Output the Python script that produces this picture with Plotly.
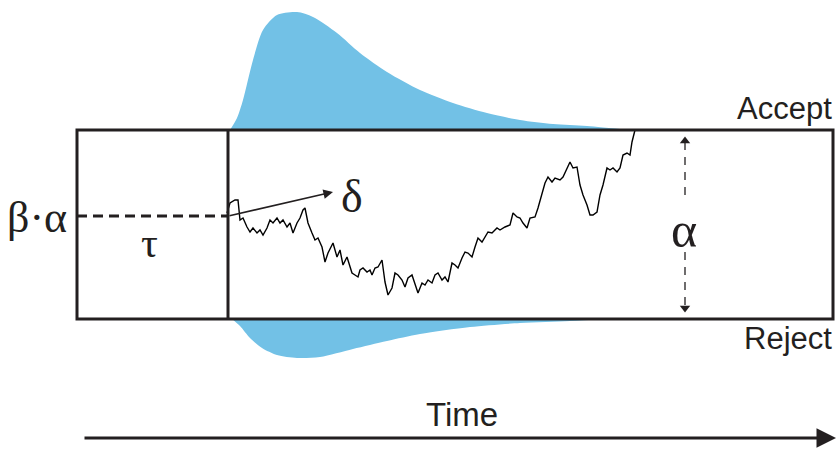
import plotly.graph_objects as go

# ---- data (diagram coordinates: x = time, y = screen-like evidence axis, reversed) ----
walk_t = [227, 230, 235, 238, 240, 243, 247, 250, 253, 257, 260, 263, 267, 270, 273, 277, 280,
          283, 287, 290, 293, 297, 300, 303, 305, 308, 312, 315, 318, 322, 325, 328, 333, 337,
          340, 343, 347, 352, 355, 358, 360, 363, 367, 370, 372, 375, 378, 382, 385, 388, 392,
          395, 398, 402, 405, 408, 412, 415, 418, 422, 425, 428, 432, 435, 438, 442, 445, 448,
          452, 455, 458, 462, 465, 468, 472, 475, 478, 482, 485, 488, 492, 497, 500, 505, 510,
          513, 517, 520, 523, 527, 530, 535, 538, 542, 545, 548, 552, 555, 560, 563, 567, 570,
          573, 577, 580, 583, 587, 590, 593, 597, 600, 603, 607, 610, 613, 617, 620, 623, 627,
          630, 632, 635]
walk_y = [213, 203, 200, 200, 220, 218, 227, 232, 228, 233, 230, 235, 228, 220, 223, 218, 223,
          220, 227, 223, 233, 223, 218, 210, 208, 223, 233, 240, 238, 247, 262, 253, 243, 257,
          250, 265, 257, 273, 275, 277, 270, 268, 272, 270, 275, 268, 267, 260, 282, 295, 288,
          273, 275, 280, 287, 278, 275, 285, 293, 283, 285, 280, 283, 275, 273, 280, 277, 282,
          263, 265, 268, 258, 252, 253, 257, 247, 238, 242, 237, 232, 233, 228, 230, 227, 225,
          213, 217, 218, 223, 228, 218, 217, 208, 192, 183, 177, 182, 178, 180, 177, 168, 162,
          168, 167, 185, 195, 205, 215, 215, 212, 195, 185, 168, 170, 168, 172, 168, 155, 153,
          155, 142, 130]

upper_t = [230, 237, 243, 253, 263, 277, 297, 313, 337, 360, 387, 420, 453, 487, 520, 553, 587, 630]
upper_y = [130, 118, 100, 60, 30, 15, 12, 17, 33, 53, 72, 90, 103, 113, 120, 124, 126, 130]

lower_t = [232, 240, 250, 262, 277, 297, 320, 353, 387, 420, 470, 520, 570, 605]
lower_y = [319, 326, 338, 348, 355, 358, 357, 349, 341, 334, 327, 323, 321, 319]

box_x0, box_x1, box_top, box_bot = 77, 833, 130, 319
tau_x = 228
start_y = 216
alpha_x = 685

ink = "#231f20"
blue = "#72c1e6"

fig = go.Figure()

# distributions of first-passage times
for tt, yy, base in [(upper_t, upper_y, box_top), (lower_t, lower_y, box_bot)]:
    fig.add_trace(go.Scatter(x=[tt[0], tt[-1]], y=[base, base], mode="lines",
                             line=dict(width=0, color=blue), hoverinfo="skip", showlegend=False))
    fig.add_trace(go.Scatter(x=tt, y=yy, fill="tonexty", fillcolor=blue,
                             line=dict(width=0, color=blue, shape="spline", smoothing=0.8),
                             mode="lines", hoverinfo="skip", showlegend=False))

# box and non-decision boundary
fig.add_shape(type="rect", x0=box_x0, x1=box_x1, y0=box_top, y1=box_bot,
              line=dict(color=ink, width=3), fillcolor="rgba(0,0,0,0)")
fig.add_shape(type="line", x0=tau_x, x1=tau_x, y0=box_top, y1=box_bot,
              line=dict(color=ink, width=3))
# starting point dashed line
fig.add_shape(type="line", x0=box_x0, x1=tau_x, y0=start_y, y1=start_y,
              line=dict(color=ink, width=3, dash="10px,6px"))

# random walk
fig.add_trace(go.Scatter(x=walk_t, y=walk_y, mode="lines",
                         line=dict(color="black", width=1.4),
                         hoverinfo="skip", showlegend=False))

# alpha dashed arrow
fig.add_trace(go.Scatter(x=[alpha_x, alpha_x], y=[142, 200], mode="lines",
                         line=dict(color=ink, width=1.3, dash="8px,7px"),
                         hoverinfo="skip", showlegend=False))
fig.add_trace(go.Scatter(x=[alpha_x, alpha_x], y=[252, 307], mode="lines",
                         line=dict(color=ink, width=1.3, dash="8px,7px"),
                         hoverinfo="skip", showlegend=False))
fig.add_trace(go.Scatter(x=[alpha_x, alpha_x], y=[141, 308], mode="markers",
                         marker=dict(symbol=["triangle-up", "triangle-down"], size=9, color=ink),
                         hoverinfo="skip", showlegend=False))

# drift arrow
fig.add_annotation(x=333, y=192, ax=tau_x, ay=start_y, xref="x", yref="y", axref="x", ayref="y",
                   showarrow=True, arrowhead=2, arrowsize=1.2, arrowwidth=1.6, arrowcolor=ink, text="")
# time arrow
fig.add_annotation(x=836, y=438, ax=83, ay=438, xref="x", yref="y", axref="x", ayref="y",
                   showarrow=True, arrowhead=2, arrowsize=1.3, arrowwidth=3, arrowcolor=ink, text="")

serif = "Liberation Serif"
sans = "Liberation Sans"
texts = [
    (352, 196, "δ", serif, 46, "center"),
    (37, 217, "β·α", serif, 44, "center"),
    (149, 243, "τ", serif, 42, "center"),
    (684, 230, "α", serif, 50, "center"),
    (834, 108, "Accept", sans, 31, "right"),
    (834, 338, "Reject", sans, 31, "right"),
    (462, 414, "Time", sans, 33, "center"),
]
for x, y, t, f, s, al in texts:
    fig.add_annotation(x=x, y=y, xref="x", yref="y", text=t, showarrow=False,
                       font=dict(family=f, size=s, color=ink), xanchor=al, yanchor="middle")

fig.update_xaxes(range=[0, 839], visible=False, fixedrange=True)
fig.update_yaxes(range=[449, 0], visible=False, fixedrange=True)
fig.update_layout(width=839, height=449, margin=dict(l=0, r=0, t=0, b=0),
                  paper_bgcolor="white", plot_bgcolor="white")

fig.write_html("out.html", config={"displayModeBar": False},
               post_script="document.body.style.margin='0';document.body.style.overflow='hidden';")
